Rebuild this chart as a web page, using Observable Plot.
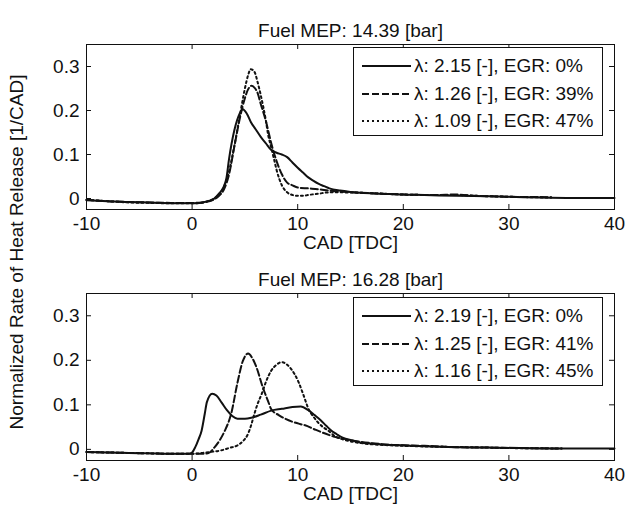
<!DOCTYPE html>
<html><head><meta charset="utf-8">
<script src="https://cdn.jsdelivr.net/npm/d3@7"></script>
<script src="https://cdn.jsdelivr.net/npm/@observablehq/plot@0.6"></script>
<style>
body{margin:0;background:#fff;}
#wrap{position:relative;width:631px;height:510px;font-family:"Liberation Sans",Arial,sans-serif;color:#111;overflow:hidden;}
.panel{position:absolute;left:0;}
.ylab{position:absolute;left:17px;top:252px;transform:translate(-50%,-50%) rotate(-90deg);white-space:nowrap;font-size:19px;}
.legend{position:absolute;left:353px;width:250px;height:89px;border:1px solid #111;background:#fff;box-sizing:border-box;}
.row{position:absolute;left:8px;height:24px;display:flex;align-items:center;font-size:19px;white-space:nowrap;}
.row svg{margin-right:3px;}
</style></head>
<body><div id="wrap"></div>
<script>
// ---- data ----
const xTicks = [-10, 0, 10, 20, 30, 40];
const yTicks = [0, 0.1, 0.2, 0.3];
const xLabel = "CAD [TDC]";
const yLabel = "Normalized Rate of Heat Release [1/CAD]";

const topTitle = "Fuel MEP: 14.39 [bar]";
const topNames = ["λ: 2.15 [-], EGR: 0%", "λ: 1.26 [-], EGR: 39%", "λ: 1.09 [-], EGR: 47%"];
const topSolidX = [-10,-8,-6,-4,-2,-1,0,1,1.5,2,2.5,3,3.25,3.5,4,4.5,4.8,5.2,5.6,6,6.5,7,7.5,8,8.5,9,9.5,10,10.5,11,11.5,12,12.5,13,14,15,16,18,20,22,25,28,30,33,36,40];
const topSolidY = [-0.004,-0.006,-0.008,-0.009,-0.011,-0.011,-0.011,-0.009,-0.006,-0.002,0.01,0.027,0.046,0.09,0.155,0.193,0.203,0.192,0.172,0.158,0.14,0.125,0.11,0.104,0.1,0.094,0.082,0.07,0.059,0.048,0.04,0.033,0.028,0.023,0.018,0.015,0.013,0.011,0.009,0.008,0.006,0.005,0.004,0.002,0.001,0.001];
const topDashX = [-10,-8,-6,-4,-2,0,1,1.5,2,2.5,3,3.5,4,4.5,5,5.3,5.6,5.9,6.2,6.5,7,7.3,7.5,8,8.5,9,9.5,10,11,12,13,14,16,18,20,23,25,27,30,34];
const topDashY = [-0.003,-0.006,-0.008,-0.009,-0.01,-0.01,-0.009,-0.007,-0.003,0.005,0.02,0.055,0.118,0.18,0.228,0.248,0.256,0.252,0.24,0.215,0.175,0.145,0.125,0.085,0.055,0.036,0.03,0.025,0.023,0.021,0.018,0.016,0.013,0.011,0.009,0.008,0.009,0.006,0.004,0.003];
const topDotX = [-10,-8,-6,-4,-2,0,1,1.5,2,2.5,3,3.5,4,4.5,5,5.3,5.55,5.9,6.2,6.5,7,7.2,7.5,7.8,8,8.5,9,9.5,10,10.5,11,12,13,14,16,18,20,23,25,27,30,34];
const topDotY = [-0.003,-0.006,-0.009,-0.01,-0.011,-0.011,-0.009,-0.006,-0.001,0.008,0.026,0.062,0.12,0.185,0.25,0.28,0.294,0.288,0.265,0.235,0.175,0.145,0.115,0.085,0.065,0.03,0.014,0.008,0.006,0.006,0.008,0.011,0.014,0.014,0.013,0.011,0.009,0.008,0.008,0.006,0.004,0.002];

const botTitle = "Fuel MEP: 16.28 [bar]";
const botNames = ["λ: 2.19 [-], EGR: 0%", "λ: 1.25 [-], EGR: 41%", "λ: 1.16 [-], EGR: 45%"];
const botSolidX = [-10,-8,-6,-4,-2,-1,-0.3,0,0.3,0.6,0.9,1.2,1.4,1.9,2.3,2.8,3.3,3.8,4.3,5,5.6,6.5,7.5,8.5,9.5,10.3,11,11.6,12.2,12.7,13.2,13.7,14.2,15,16,17,18,20,22,25,28,31,35,40];
const botSolidY = [-0.006,-0.007,-0.008,-0.009,-0.01,-0.01,-0.01,-0.007,0.005,0.022,0.042,0.08,0.106,0.125,0.121,0.105,0.088,0.075,0.069,0.069,0.071,0.078,0.087,0.091,0.095,0.096,0.088,0.077,0.065,0.053,0.042,0.034,0.027,0.021,0.015,0.013,0.011,0.009,0.007,0.005,0.004,0.003,0.002,0.002];
const botDashX = [-10,-8,-6,-4,-2,0,1,1.5,2.1,2.6,3.1,3.7,4.3,4.8,5.3,5.7,6.1,6.7,7.2,7.5,8.2,8.8,9.5,10.2,10.7,11.5,12.2,13,13.5,14.5,15.4,17,19,22,25,28,31,35];
const botDashY = [-0.006,-0.007,-0.008,-0.009,-0.01,-0.01,-0.01,-0.009,0.004,0.02,0.042,0.08,0.15,0.198,0.215,0.205,0.184,0.139,0.108,0.09,0.077,0.069,0.062,0.057,0.054,0.046,0.039,0.032,0.028,0.023,0.019,0.014,0.01,0.008,0.005,0.004,0.003,0.002];
const botDotX = [-10,-8,-6,-4,-2,0,1,2,2.8,3.5,4.3,4.8,5.3,5.6,5.9,6.2,6.6,7,7.5,8,8.5,9,9.7,10.1,10.5,11.1,11.5,11.9,12.4,12.9,13.5,14.2,15,16,18,20,23,26,30,35];
const botDotY = [-0.006,-0.007,-0.008,-0.009,-0.01,-0.01,-0.008,-0.005,-0.002,0.003,0.009,0.018,0.035,0.055,0.08,0.102,0.125,0.152,0.177,0.19,0.196,0.19,0.169,0.15,0.125,0.087,0.073,0.061,0.05,0.042,0.03,0.023,0.018,0.014,0.01,0.008,0.006,0.005,0.003,0.002];

// ---- drawing ----
const INK = "#111";
const FONT = "Liberation Sans, Arial, sans-serif";
const dashes = [null, "7,3", "2,3"];
const wrap = document.getElementById("wrap");

function pts(xs, ys) { return xs.map((x, i) => ({x, y: ys[i]})); }

function panel({title, series, top, height, mt, mb}) {
  const W = 631, ml = 86, mr = 17;
  const fw = W - ml - mr, fh = height - mt - mb;
  const marks = [
    Plot.axisX({ticks: xTicks, tickFormat: d => String(d), tickSize: 0, tickPadding: 7, label: null, fontSize: 19, fill: INK}),
    Plot.axisY({ticks: yTicks, tickFormat: d => String(d), tickSize: 0, tickPadding: 7, label: null, fontSize: 19, fill: INK}),
    Plot.tickX(xTicks, {x: d => d, insetTop: fh - 5, stroke: INK}),
    Plot.tickX(xTicks, {x: d => d, insetBottom: fh - 5, stroke: INK}),
    Plot.tickY(yTicks, {y: d => d, insetRight: fw - 5, stroke: INK}),
    Plot.tickY(yTicks, {y: d => d, insetLeft: fw - 5, stroke: INK}),
    ...series.map((s, i) => Plot.line(pts(s[0], s[1]), {x: "x", y: "y", stroke: INK, strokeWidth: 2, curve: "monotone-x", strokeDasharray: dashes[i]})),
    Plot.frame({stroke: INK, strokeWidth: 1}),
    Plot.text([title], {text: d => d, frameAnchor: "top", dy: -21, fontSize: 19, fill: INK}),
    Plot.text([xLabel], {text: d => d, frameAnchor: "bottom", dy: 39, fontSize: 19, fill: INK})
  ];
  const svg = Plot.plot({
    width: W, height, marginLeft: ml, marginRight: mr, marginTop: mt, marginBottom: mb,
    style: {fontFamily: FONT, fontSize: "19px", color: INK, background: "transparent", overflow: "visible"},
    x: {domain: [-10, 40]},
    y: {domain: [-0.025, 0.35]},
    marks
  });
  svg.classList.add("panel");
  svg.style.top = top + "px";
  wrap.appendChild(svg);
}

function legend(names, top) {
  const box = document.createElement("div");
  box.className = "legend";
  box.style.top = top + "px";
  names.forEach((n, i) => {
    const row = document.createElement("div");
    row.className = "row";
    row.style.top = (6 + i * 27.5) + "px";
    const dash = dashes[i] ? `stroke-dasharray="${dashes[i]}"` : "";
    row.innerHTML = `<svg width="49" height="6"><line x1="0" x2="49" y1="3" y2="3" stroke="${INK}" stroke-width="2" ${dash}/></svg><span>${n}</span>`;
    box.appendChild(row);
  });
  wrap.appendChild(box);
}

panel({title: topTitle, series: [[topSolidX, topSolidY], [topDashX, topDashY], [topDotX, topDotY]], top: 0, height: 250, mt: 44, mb: 41});
panel({title: botTitle, series: [[botSolidX, botSolidY], [botDashX, botDashY], [botDotX, botDotY]], top: 250, height: 260, mt: 43, mb: 50});
legend(topNames, 47);
legend(botNames, 297);

const yl = document.createElement("div");
yl.className = "ylab";
yl.textContent = yLabel;
wrap.appendChild(yl);
</script>
</body></html>
